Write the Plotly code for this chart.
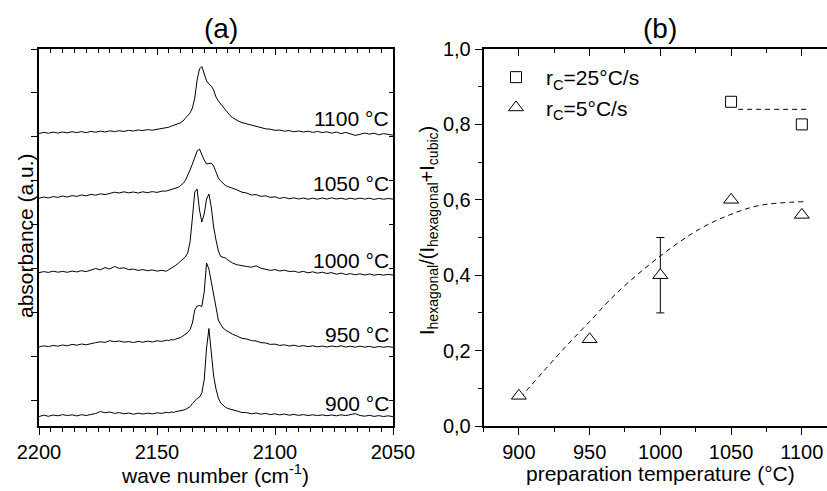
import plotly.graph_objects as go

# ---------------- Panel (a): IR spectra ----------------
wavenumber = [
    2200, 2198, 2196, 2194, 2192, 2190, 2188, 2186, 2184, 2182, 2180, 2178, 2176, 2174,
    2172, 2170, 2168, 2166, 2164, 2162, 2160, 2158, 2156, 2154, 2152, 2150, 2148, 2146,
    2145, 2144, 2143, 2142, 2141, 2140, 2139, 2138, 2137, 2136, 2135, 2134, 2133, 2132,
    2131, 2130, 2129, 2128, 2127, 2126, 2125, 2124, 2123, 2122, 2121, 2120, 2119, 2118,
    2116, 2114, 2112, 2110, 2108, 2106, 2104, 2102, 2100, 2098, 2096, 2094, 2092, 2090,
    2088, 2086, 2084, 2082, 2080, 2078, 2076, 2074, 2072, 2070, 2068, 2066, 2064, 2062,
    2060, 2058, 2056, 2054, 2052, 2050,
]

abs_900 = [
    -16.5, -15.2, -16.3, -15.0, -15.8, -14.6, -15.6, -14.8, -15.9, -14.7, -15.5, -14.4, -13.5, -11.5,
    -12.8, -12.0, -13.4, -12.6, -13.8, -13.0, -14.2, -13.2, -14.0, -13.1, -13.9, -12.8, -13.4, -12.3,
    -12.8, -12.0, -12.4, -11.6, -11.3, -10.8, -10.2, -9.5, -8.2, -6.7, -3.5, -1.0, 1.5, 2.8,
    7.0, 20.0, 52.0, 71.5, 50.0, 24.0, 11.0, 2.0, -3.0, -5.5, -7.3, -8.5, -9.3, -10.0,
    -11.0, -12.5, -12.6, -13.8, -13.0, -14.2, -13.4, -14.6, -13.8, -14.9, -14.0, -15.2, -14.4, -15.4,
    -14.6, -15.5, -14.8, -15.6, -14.9, -15.7, -15.0, -15.8, -14.8, -15.6, -14.6, -13.6, -15.5, -16.2,
    -15.3, -16.4, -15.6, -16.5, -15.8, -16.7,
]

abs_950 = [
    53.0, 54.2, 53.4, 54.6, 53.8, 55.0, 54.2, 55.6, 54.8, 56.0, 55.2, 56.6, 57.4, 58.2,
    57.6, 59.3, 58.4, 59.0, 57.8, 58.4, 57.5, 58.6, 57.8, 58.9, 58.0, 59.2, 58.6, 59.8,
    59.4, 60.4, 60.0, 61.0, 61.6, 62.5, 64.0, 65.5, 67.5, 70.5, 77.0, 90.0, 94.0, 94.5,
    93.5, 108.0, 137.0, 131.0, 118.0, 104.0, 89.0, 80.0, 75.5, 72.0, 70.0, 68.5, 66.8, 65.8,
    63.8, 61.7, 61.0, 59.4, 59.0, 57.4, 57.0, 55.6, 55.9, 54.6, 55.2, 54.0, 54.8, 53.6,
    54.4, 53.4, 54.2, 53.2, 54.0, 53.0, 54.0, 53.2, 54.2, 53.0, 53.8, 52.8, 53.8, 52.9,
    53.6, 52.6, 53.5, 52.8, 53.4, 52.6,
]

abs_1000 = [
    127.3, 128.4, 127.6, 128.8, 127.8, 128.6, 127.7, 128.9, 128.1, 129.3, 128.4, 129.6, 131.5, 130.2,
    132.4, 131.0, 133.5, 131.6, 132.2, 130.4, 130.9, 129.6, 130.4, 129.3, 130.1, 128.9, 129.6, 128.8,
    130.2, 131.7, 133.0, 134.8, 136.7, 138.5, 140.5, 143.0, 147.0, 158.0, 182.0, 208.0, 211.0, 190.0,
    178.0, 186.0, 201.0, 206.0, 193.0, 173.0, 160.0, 149.0, 143.5, 143.0, 142.0, 140.0, 138.3, 137.0,
    135.2, 134.0, 133.5, 132.8, 134.2, 131.8, 131.0, 129.6, 130.4, 129.0, 129.8, 128.5, 128.8, 127.6,
    128.6, 127.2, 128.2, 126.8, 127.8, 126.5, 127.4, 125.8, 126.9, 125.5, 126.4, 125.2, 126.2, 125.0,
    126.0, 124.8, 125.6, 124.9, 125.6, 125.0,
]

abs_1050 = [
    201.8, 203.0, 202.0, 203.4, 202.6, 204.0, 203.0, 204.4, 203.6, 205.0, 204.2, 205.6, 204.8, 206.2,
    205.4, 206.8, 207.8, 207.0, 208.2, 207.2, 208.0, 207.0, 208.2, 207.3, 208.4, 207.6, 208.8, 209.0,
    209.6, 210.4, 211.0, 212.0, 212.7, 214.5, 216.5, 219.5, 224.0, 230.0, 236.0, 243.0, 249.0, 251.0,
    245.0, 240.0, 236.0, 236.5, 237.0, 234.0, 227.0, 222.0, 219.0, 216.5, 214.5, 213.5, 212.7, 211.5,
    210.0, 207.8, 207.0, 205.0, 205.4, 203.6, 204.2, 202.6, 203.2, 201.6, 202.6, 201.2, 202.2, 201.0,
    202.0, 200.8, 201.8, 200.8, 202.0, 200.9, 202.2, 201.0, 201.8, 200.7, 201.8, 200.8, 201.9, 200.9,
    201.8, 200.6, 201.6, 200.8, 201.5, 200.9,
]

abs_1100 = [
    266.5, 267.6, 266.8, 267.9, 266.9, 268.0, 267.2, 268.3, 267.4, 268.4, 267.3, 268.6, 267.8, 268.9,
    268.0, 269.2, 268.4, 269.3, 268.6, 269.6, 269.0, 270.0, 269.4, 270.4, 269.8, 270.6, 271.2, 272.4,
    272.8, 273.8, 274.5, 275.2, 276.0, 277.2, 279.0, 282.0, 284.0, 287.0, 292.0, 302.0, 320.0, 331.0,
    333.5, 325.0, 319.0, 316.0, 314.0, 310.0, 303.0, 299.0, 296.0, 293.0, 290.0, 287.0, 284.3, 282.5,
    279.5, 277.4, 276.2, 275.0, 273.4, 272.4, 271.2, 270.8, 269.6, 270.0, 268.8, 269.4, 268.2, 269.0,
    268.0, 268.8, 267.6, 268.6, 267.4, 268.2, 266.8, 268.0, 266.4, 267.6, 266.2, 264.6, 265.6, 267.0,
    265.8, 266.8, 265.2, 266.4, 265.6, 264.8,
]

spectra = [abs_900, abs_950, abs_1000, abs_1050, abs_1100]
spectrum_labels = ["900 °C", "950 °C", "1000 °C", "1050 °C", "1100 °C"]
label_levels = [-3, 66, 140, 217, 282]

# ---------------- Panel (b): hexagonal fraction ----------------
temps_5 = [900, 950, 1000, 1050, 1100]
frac_5 = [0.08, 0.23, 0.40, 0.60, 0.56]
err_5 = [0, 0, 0.10, 0, 0]

temps_25 = [1050, 1100]
frac_25 = [0.86, 0.80]

fit5_x = [901, 931, 950, 969, 1000, 1028, 1049, 1070, 1101]
fit5_y = [0.075, 0.202, 0.277, 0.352, 0.451, 0.523, 0.560, 0.585, 0.595]
fit25_x = [1055, 1105]
fit25_y = [0.84, 0.84]

FONT = "Liberation Sans, Arial, sans-serif"
W, H = 827, 491

fig = go.Figure()

for s in spectra:
    fig.add_trace(go.Scatter(x=wavenumber, y=s, mode="lines",
                             line=dict(color="black", width=1),
                             xaxis="x", yaxis="y", showlegend=False, hoverinfo="skip"))

# dummy traces so the overlay axes are drawn
fig.add_trace(go.Scatter(x=[], y=[], xaxis="x3", yaxis="y", showlegend=False))
fig.add_trace(go.Scatter(x=[], y=[], xaxis="x", yaxis="y3", showlegend=False))
fig.add_trace(go.Scatter(x=[], y=[], xaxis="x4", yaxis="y2", showlegend=False))

# fits
fig.add_trace(go.Scatter(x=fit5_x, y=fit5_y, mode="lines",
                         line=dict(color="black", width=1, dash="5px,4px", shape="spline", smoothing=1.0),
                         xaxis="x2", yaxis="y2", showlegend=False, hoverinfo="skip"))
fig.add_trace(go.Scatter(x=fit25_x, y=fit25_y, mode="lines", line=dict(color="black", width=1, dash="5px,4px"),
                         xaxis="x2", yaxis="y2", showlegend=False, hoverinfo="skip"))

# error bar (only where an error is given)
ex = [t for t, e in zip(temps_5, err_5) if e > 0]
ey = [f for f, e in zip(frac_5, err_5) if e > 0]
ee = [e for e in err_5 if e > 0]
fig.add_trace(go.Scatter(x=ex, y=ey, mode="markers", marker=dict(size=1, color="rgba(0,0,0,0)"),
                         error_y=dict(type="data", array=ee, color="black", thickness=1, width=4),
                         xaxis="x2", yaxis="y2", showlegend=False, hoverinfo="skip"))

fig.add_trace(go.Scatter(x=temps_25, y=frac_25, mode="markers", name="r<sub>C</sub>=25°C/s",
                         marker=dict(symbol="square", size=11, color="white", line=dict(color="black", width=1)),
                         xaxis="x2", yaxis="y2", legendgroup="a"))
fig.add_trace(go.Scatter(x=temps_5, y=frac_5, mode="markers", name="r<sub>C</sub>=5°C/s",
                         marker=dict(symbol="triangle-up", size=13, color="white", line=dict(color="black", width=1)),
                         xaxis="x2", yaxis="y2", legendgroup="b"))

ydom = [(H - 426) / H, (H - 49) / H]
xdom_a = [39 / W, 393 / W]
xdom_b = [483.5 / W, 1.0]

axline = dict(showline=True, linecolor="black", linewidth=1.5, showgrid=False, zeroline=False,
              tickcolor="black", tickwidth=1, automargin=False)
tickfont = dict(family=FONT, size=20, color="black")

fig.update_layout(
    template="none",
    width=W, height=H, autosize=False,
    margin=dict(l=0, r=0, t=0, b=0, pad=0, autoexpand=False),
    paper_bgcolor="white", plot_bgcolor="white",
    separators=", ",
    font=dict(family=FONT, color="black"),
    xaxis=dict(domain=xdom_a, range=[2200, 2050], anchor="y", side="bottom",
               ticks="outside", ticklen=7, tick0=2050, dtick=50, tickfont=tickfont,
               minor=dict(dtick=5, ticklen=4, ticks="outside", tickcolor="black", tickwidth=1), **axline),
    xaxis3=dict(range=[2200, 2050], overlaying="x", anchor="y", side="top",
                ticks="inside", ticklen=6, tick0=2050, dtick=50, showticklabels=False,
                minor=dict(dtick=5, ticklen=4, ticks="inside", tickcolor="black", tickwidth=1), **axline),
    yaxis=dict(domain=ydom, range=[-26, 351], anchor="x", side="left",
               ticks="outside", ticklen=6, tick0=0, dtick=43.86, showticklabels=False, **axline),
    yaxis3=dict(range=[-26, 351], overlaying="y", anchor="x", side="right",
                ticks="inside", ticklen=4, tick0=0, dtick=43.86, showticklabels=False, **axline),
    xaxis2=dict(domain=xdom_b, range=[875, 1117.8], anchor="y2", side="bottom",
                ticks="outside", ticklen=7, tick0=900, dtick=50, tickfont=tickfont,
                minor=dict(dtick=25, ticklen=4.5, ticks="outside", tickcolor="black", tickwidth=1), **axline),
    xaxis4=dict(range=[875, 1117.8], overlaying="x2", anchor="y2", side="top",
                ticks="inside", ticklen=7, tick0=900, dtick=50, showticklabels=False,
                minor=dict(dtick=25, ticklen=4, ticks="inside", tickcolor="black", tickwidth=1), **axline),
    yaxis2=dict(domain=ydom, range=[0, 1.0], anchor="x2", side="left",
                ticks="outside", ticklen=7, tick0=0, dtick=0.2, tickformat=".1f", tickfont=tickfont,
                minor=dict(dtick=0.1, ticklen=4, ticks="outside", tickcolor="black", tickwidth=1), **axline),
    legend=dict(x=486 / W, y=1 - 57 / H, xanchor="left", yanchor="top", itemwidth=50,
                bgcolor="rgba(0,0,0,0)", borderwidth=0, font=dict(family=FONT, size=21, color="black"),
                tracegroupgap=0, traceorder="grouped"),
)

ann = []
for lab, lev in zip(spectrum_labels, label_levels):
    ann.append(dict(text=lab, xref="x domain", yref="y", x=0.995, y=lev, xanchor="right", yanchor="middle",
                    showarrow=False, font=dict(family=FONT, size=21, color="black")))

ann += [
    dict(text="(a)", xref="paper", yref="paper", x=221 / W, y=1 - 28 / H, showarrow=False,
         font=dict(family=FONT, size=28, color="black"), xanchor="center", yanchor="middle"),
    dict(text="(b)", xref="paper", yref="paper", x=660 / W, y=1 - 28 / H, showarrow=False,
         font=dict(family=FONT, size=28, color="black"), xanchor="center", yanchor="middle"),
    dict(text="wave number (cm<sup>-1</sup>)", xref="paper", yref="paper", x=215 / W, y=1 - 474 / H,
         showarrow=False, font=dict(family=FONT, size=21, color="black"), xanchor="center", yanchor="middle"),
    dict(text="preparation temperature (°C)", xref="paper", yref="paper", x=660 / W, y=1 - 473 / H,
         showarrow=False, font=dict(family=FONT, size=21, color="black"), xanchor="center", yanchor="middle"),
    dict(text="absorbance (a.u.)", xref="paper", yref="paper", x=25 / W, y=1 - 236 / H, textangle=-90,
         showarrow=False, font=dict(family=FONT, size=21, color="black"), xanchor="center", yanchor="middle"),
    dict(text="I<sub>hexagonal</sub>/(I<sub>hexagonal</sub>+I<sub>cubic</sub>)", xref="paper", yref="paper",
         x=428 / W, y=1 - 231 / H, textangle=-90,
         showarrow=False, font=dict(family=FONT, size=20, color="black"), xanchor="center", yanchor="middle"),
]
fig.update_layout(annotations=ann)

fig.write_html("out.html")
